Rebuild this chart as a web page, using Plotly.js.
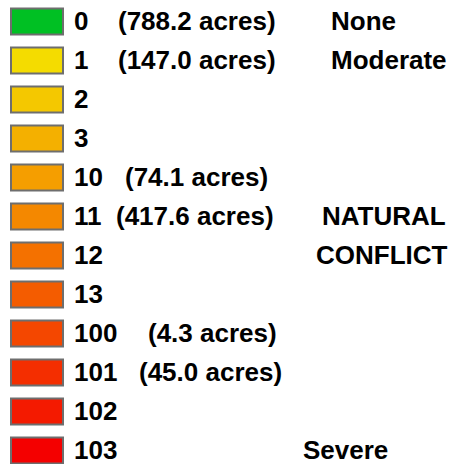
<!DOCTYPE html>
<html>
<head>
<meta charset="utf-8">
<script src="https://cdn.plot.ly/plotly-3.0.1.min.js"></script>
<style>
html,body{margin:0;padding:0;background:#fff;}
#chart{width:452px;height:464px;}
</style>
</head>
<body>
<div id="chart"></div>
<script>
// Legend categories (conflict codes)
const codes = ["0", "1", "2", "3", "10", "11", "12", "13", "100", "101", "102", "103"];
// Acreage per code (null = not shown)
const acres = ["788.2", "147.0", null, null, "74.1", "417.6", null, null, "4.3", "45.0", null, null];
// Class descriptions
const classLabels = ["None", "Moderate", null, null, null, "NATURAL", "CONFLICT", null, null, null, null, "Severe"];
// Swatch colours
const colors = ["#00c023", "#f4dc00", "#f4c800", "#f4b000", "#f59e00", "#f48800", "#f47100", "#f45c00",
                "#f44700", "#f42e00", "#f41a00", "#f40000"];

// layout-only positions (pixels on the 0..452 x axis)
const codeX = 73;
const acresX = [117, 117, null, null, 124, 115, null, null, 147, 138, null, null];
const classX = [330, 330, null, null, null, 321, 315, null, null, null, null, 302];

const idx = codes.map((_, i) => i);
const font = {family: "Liberation Sans, Arial, sans-serif", size: 26, color: "#000", weight: "bold"};

const trace = {
  type: "bar",
  orientation: "h",
  y: idx,
  x: codes.map(() => 52),
  base: 11,
  width: 26 / 39,
  marker: {color: colors, line: {color: "#6e6e6e", width: 2}},
  hoverinfo: "skip",
  showlegend: false
};

const annotations = [];
idx.forEach(i => {
  const common = {y: i, xanchor: "left", yanchor: "middle", showarrow: false, font: font, borderpad: 0, yshift: 1};
  annotations.push(Object.assign({x: codeX, text: codes[i]}, common));
  if (acres[i] !== null) {
    annotations.push(Object.assign({x: acresX[i], text: "(" + acres[i] + " acres)"}, common));
  }
  if (classLabels[i] !== null) {
    annotations.push(Object.assign({x: classX[i], text: classLabels[i]}, common));
  }
});

const layout = {
  width: 452, height: 464,
  margin: {l: 0, r: 0, t: 0, b: 0},
  paper_bgcolor: "#fff", plot_bgcolor: "#fff",
  xaxis: {range: [0, 452], visible: false, fixedrange: true},
  yaxis: {range: [(464 - 21.5) / 39, -21.5 / 39], visible: false, fixedrange: true},
  annotations: annotations,
  showlegend: false
};

Plotly.newPlot("chart", [trace], layout, {staticPlot: true, displayModeBar: false});
</script>
</body>
</html>
